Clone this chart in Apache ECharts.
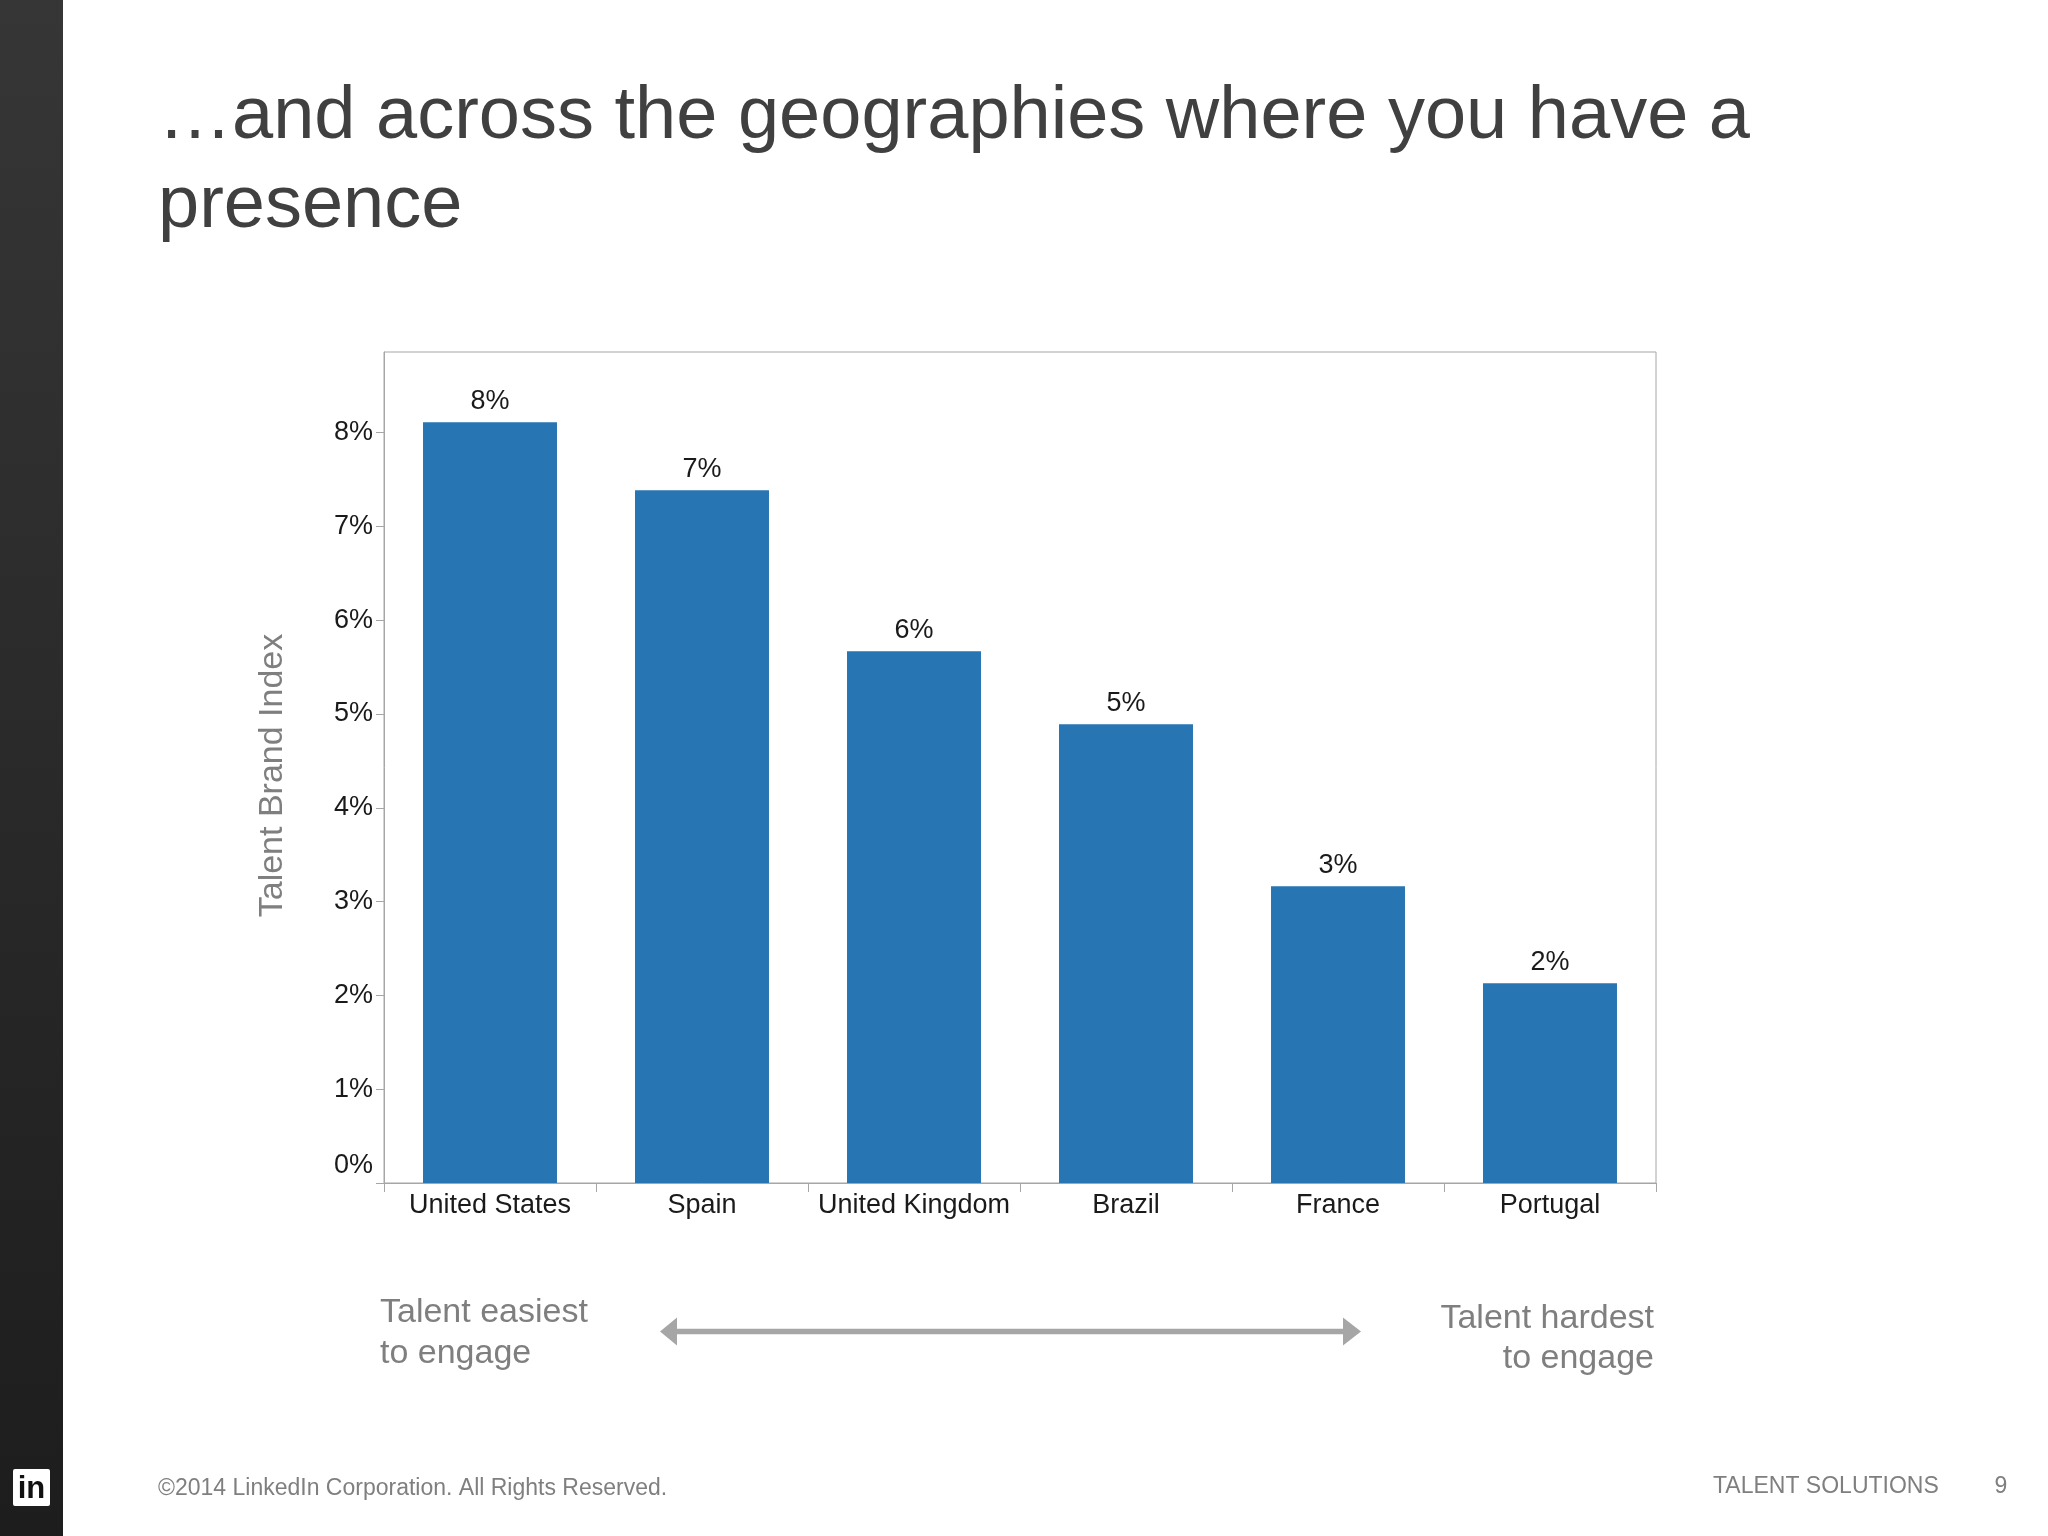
<!DOCTYPE html>
<html>
<head>
<meta charset="utf-8">
<script src="https://cdn.jsdelivr.net/npm/echarts@6/dist/echarts.min.js"></script>
<style>
html,body{margin:0;padding:0;background:#fff;}
#c{width:2048px;height:1536px;}
</style>
</head>
<body>
<div id="c"></div>
<script>
const categories = ['United States', 'Spain', 'United Kingdom', 'Brazil', 'France', 'Portugal'];
const values = [8.11, 7.385, 5.67, 4.89, 3.165, 2.13];
const yTickValues = [0, 1, 2, 3, 4, 5, 6, 7, 8];
const yMax = 8.86;

const titleLines = ['\u2026and across the geographies where you have a', 'presence'];
const yAxisTitle = 'Talent Brand Index';
const leftNote = ['Talent easiest', 'to engage'];
const rightNote = ['Talent hardest', 'to engage'];
const footerText = '\u00a92014 LinkedIn Corporation. All Rights Reserved.';
const footerRight = 'TALENT SOLUTIONS';
const pageNumber = '9';

const SANS = "'Liberation Sans', Arial, sans-serif";
const NARROW = "'Liberation Sans Narrow', 'Arial Narrow', 'Liberation Sans', sans-serif";
const GRAY = '#a6a6a6';
const TXT = '#7f7f7f';
const LBL = 27;
const NOTE_FONT = "34px 'Liberation Sans', Arial, sans-serif";

const chart = echarts.init(document.getElementById('c'), null, {renderer: 'canvas'});

const option = {
  backgroundColor: '#ffffff',
  animation: false,
  grid: {
    left: 384, right: 392, top: 352, bottom: 353,
    show: true, borderColor: GRAY, borderWidth: 1, backgroundColor: 'transparent'
  },
  xAxis: {
    type: 'category',
    data: categories,
    axisLine: {show: true, lineStyle: {color: GRAY, width: 1}},
    axisTick: {show: true, interval: 0, length: 9, lineStyle: {color: GRAY}},
    axisLabel: {interval: 0, margin: 9, fontFamily: NARROW, fontSize: LBL, color: '#1a1a1a'},
    splitLine: {show: false}
  },
  yAxis: {
    type: 'value',
    min: 0,
    max: yMax,
    name: yAxisTitle,
    nameLocation: 'middle',
    nameGap: 94,
    nameTextStyle: {fontFamily: SANS, fontSize: 34, color: TXT, padding: [0, 16, 0, 0]},
    axisLine: {show: true, lineStyle: {color: GRAY, width: 1}},
    axisTick: {show: true, length: 8, customValues: yTickValues, lineStyle: {color: GRAY}},
    axisLabel: {
      customValues: yTickValues,
      margin: 11,
      fontFamily: NARROW, fontSize: LBL, color: '#1a1a1a',
      formatter: function (v) { return v === 0 ? '{z|0%}' : v + '%'; },
      rich: {z: {fontFamily: NARROW, fontSize: LBL, color: '#1a1a1a', padding: [0, 0, 34, 0]}}
    },
    splitLine: {show: false}
  },
  series: [{
    type: 'bar',
    data: values,
    barCategoryGap: '36.8%',
    itemStyle: {color: '#2775b3'},
    label: {
      show: true, position: 'top', distance: 7,
      fontFamily: NARROW, fontSize: LBL, color: '#1a1a1a',
      formatter: function (p) { return Math.round(p.value) + '%'; }
    }
  }],
  graphic: [
    {type: 'rect', shape: {x: 0, y: 0, width: 63, height: 1536}, silent: true,
     style: {fill: new echarts.graphic.LinearGradient(0, 0, 0, 1, [{offset: 0, color: '#363636'}, {offset: 1, color: '#1d1d1d'}])}},
    {type: 'rect', shape: {x: 13, y: 1469, width: 37, height: 37, r: 2}, style: {fill: '#ffffff'}},
    {type: 'text', x: 31.5, y: 1489, style: {text: 'in', fill: '#111', font: "bold 31px 'Liberation Sans', Arial, sans-serif", textAlign: 'center', textVerticalAlign: 'middle'}},
    {type: 'text', x: 158, y: 118, style: {text: titleLines[0], fill: '#404040', font: "74px 'Liberation Sans', Arial, sans-serif", textAlign: 'left', textVerticalAlign: 'middle'}},
    {type: 'text', x: 158, y: 207, style: {text: titleLines[1], fill: '#404040', font: "74px 'Liberation Sans', Arial, sans-serif", textAlign: 'left', textVerticalAlign: 'middle'}},
    {type: 'text', x: 380, y: 1313, style: {text: leftNote[0], fill: TXT, font: NOTE_FONT, textAlign: 'left', textVerticalAlign: 'middle'}},
    {type: 'text', x: 380, y: 1354, style: {text: leftNote[1], fill: TXT, font: NOTE_FONT, textAlign: 'left', textVerticalAlign: 'middle'}},
    {type: 'text', x: 1654, y: 1319, style: {text: rightNote[0], fill: TXT, font: NOTE_FONT, textAlign: 'right', textVerticalAlign: 'middle'}},
    {type: 'text', x: 1654, y: 1359, style: {text: rightNote[1], fill: TXT, font: NOTE_FONT, textAlign: 'right', textVerticalAlign: 'middle'}},
    {type: 'line', shape: {x1: 672, y1: 1331.5, x2: 1349, y2: 1331.5}, style: {stroke: GRAY, lineWidth: 5.5}},
    {type: 'polygon', shape: {points: [[660, 1331.5], [677, 1317.5], [677, 1345.5]]}, style: {fill: GRAY}},
    {type: 'polygon', shape: {points: [[1361, 1331.5], [1343, 1317.5], [1343, 1345.5]]}, style: {fill: GRAY}},
    {type: 'text', x: 158, y: 1489, style: {text: footerText, fill: TXT, font: "23px 'Liberation Sans', Arial, sans-serif", textAlign: 'left', textVerticalAlign: 'middle'}},
    {type: 'text', x: 1713, y: 1487, style: {text: footerRight, fill: TXT, font: "23px 'Liberation Sans', Arial, sans-serif", textAlign: 'left', textVerticalAlign: 'middle'}},
    {type: 'text', x: 2001, y: 1487, style: {text: pageNumber, fill: TXT, font: "23px 'Liberation Sans', Arial, sans-serif", textAlign: 'center', textVerticalAlign: 'middle'}}
  ]
};
chart.setOption(option);
</script>
</body>
</html>
